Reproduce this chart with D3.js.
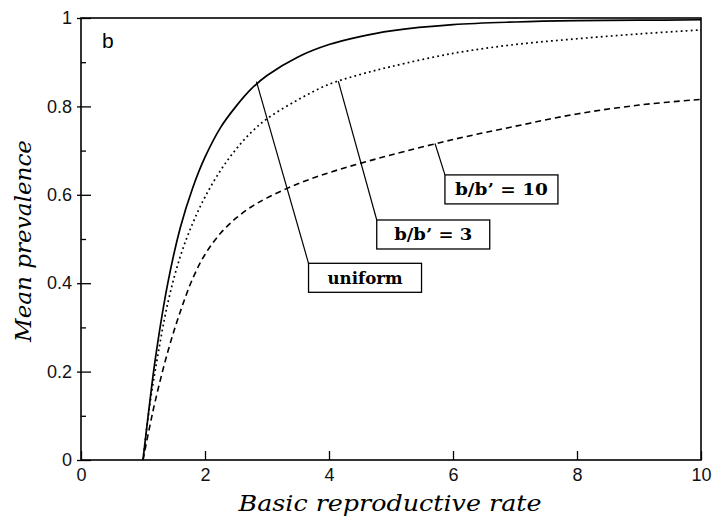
<!DOCTYPE html>
<html>
<head>
<meta charset="utf-8">
<script src="https://cdn.jsdelivr.net/npm/d3@7"></script>
<style>
  body { margin: 0; background: #fff; }
  svg { display: block; }
</style>
</head>
<body>
<div id="chart"></div>
<script>
// basic reproductive rate (x)
const rates = [1, 1.1, 1.2, 1.4, 1.6, 1.8, 2, 2.25, 2.5, 2.75, 3, 3.5, 4, 4.5, 5, 6, 7, 8, 9, 10];
// mean prevalence for each scenario
const uniform = [0, 0.12, 0.23, 0.40, 0.525, 0.615, 0.685, 0.752, 0.80, 0.84, 0.87, 0.912, 0.94, 0.958, 0.971, 0.985, 0.991, 0.994, 0.995, 0.996];
const ratio3 = [0, 0.115, 0.205, 0.355, 0.46, 0.535, 0.595, 0.655, 0.703, 0.742, 0.772, 0.815, 0.85, 0.872, 0.89, 0.92, 0.94, 0.953, 0.964, 0.973];
const ratio10 = [0, 0.07, 0.135, 0.245, 0.335, 0.41, 0.465, 0.513, 0.547, 0.573, 0.593, 0.625, 0.65, 0.671, 0.69, 0.725, 0.755, 0.783, 0.803, 0.816];

const xTicks = [0, 2, 4, 6, 8, 10];
const yTicks = [0, 0.2, 0.4, 0.6, 0.8, 1];
const yMinor = [0.1, 0.3, 0.5, 0.7, 0.9];

const margin = { top: 18, left: 81, bottom: 62, right: 13 };
const fullWidth = 714, fullHeight = 522;
const width = fullWidth - margin.left - margin.right;
const height = fullHeight - margin.top - margin.bottom;

const svg = d3.select('#chart')
    .append('svg')
        .attr('width', fullWidth)
        .attr('height', fullHeight)
    .append('g')
        .attr('transform', `translate(${margin.left}, ${margin.top})`);

const xScale = d3.scaleLinear().domain([0, 10]).range([0, width]);
const yScale = d3.scaleLinear().domain([0, 1]).range([height, 0]);

const tickFont = '"Liberation Sans", Arial, sans-serif';
const serif = '"DejaVu Serif", "Liberation Serif", serif';

// y axis: major ticks cross the axis slightly
const yAxis = d3.axisLeft(yScale)
    .tickValues(yTicks)
    .tickFormat(d3.format('~g'))
    .tickSizeInner(-10)
    .tickSizeOuter(0)
    .tickPadding(9);
const gy = svg.append('g').call(yAxis);
gy.select('.domain').remove();
gy.selectAll('.tick line').attr('x1', -4).attr('x2', 10).attr('stroke-width', 1.3);
gy.selectAll('text').style('font-family', tickFont).style('font-size', '18px').attr('fill', '#111');

const gyMinor = svg.append('g')
    .call(d3.axisLeft(yScale).tickValues(yMinor).tickSizeInner(-5).tickSizeOuter(0).tickFormat(''));
gyMinor.select('.domain').remove();
gyMinor.selectAll('.tick line').attr('stroke-width', 1.3);

// x axis
const xAxis = d3.axisBottom(xScale)
    .tickValues(xTicks)
    .tickSizeInner(-9)
    .tickSizeOuter(0)
    .tickPadding(8);
const gx = svg.append('g')
        .attr('transform', `translate(0, ${height})`)
    .call(xAxis);
gx.select('.domain').remove();
gx.selectAll('.tick line').attr('stroke-width', 1.3);
gx.selectAll('text').style('font-family', tickFont).style('font-size', '18px').attr('fill', '#111');

// frame
svg.append('rect')
    .attr('width', width)
    .attr('height', height)
    .attr('fill', 'none')
    .attr('stroke', '#000')
    .attr('stroke-width', 1.6);

// curves
const line = d3.line()
    .x(d => xScale(d[0]))
    .y(d => yScale(d[1]))
    .curve(d3.curveCatmullRom.alpha(0.5));

const series = [
    { values: uniform, dash: null, w: 1.7 },
    { values: ratio3, dash: '1.8,3.2', w: 1.7 },
    { values: ratio10, dash: '6,4', w: 1.6 },
];

svg.selectAll('path.curve')
    .data(series)
    .enter()
    .append('path')
        .attr('class', 'curve')
        .attr('d', s => line(rates.map((r, i) => [r, s.values[i]])))
        .attr('fill', 'none')
        .attr('stroke', '#000')
        .attr('stroke-width', s => s.w)
        .attr('stroke-dasharray', s => s.dash);

// labels with leader lines (anchor on curve, box corner in data units)
const notes = [
    { text: 'uniform', ax: 2.83, ay: 0.856, bx: 3.67, by: 0.445, len: 75 },
    { text: "b/b\u2019 = 3", ax: 4.15, ay: 0.857, bx: 4.77, by: 0.543, len: 78 },
    { text: "b/b\u2019 = 10", ax: 5.71, ay: 0.716, bx: 5.87, by: 0.645, len: 93 },
];
const boxW = 113, boxH = 29;

const note = svg.selectAll('g.note')
    .data(notes)
    .enter()
    .append('g')
        .attr('class', 'note');

note.append('line')
    .attr('x1', d => xScale(d.ax))
    .attr('y1', d => yScale(d.ay))
    .attr('x2', d => xScale(d.bx))
    .attr('y2', d => yScale(d.by))
    .attr('stroke', '#000')
    .attr('stroke-width', 1.2);

note.append('rect')
    .attr('x', d => xScale(d.bx))
    .attr('y', d => yScale(d.by))
    .attr('width', boxW)
    .attr('height', boxH)
    .attr('fill', '#fff')
    .attr('stroke', '#000')
    .attr('stroke-width', 1.3);

note.append('text')
    .attr('x', d => xScale(d.bx) + boxW / 2)
    .attr('y', d => yScale(d.by) + boxH / 2 + 6)
    .attr('text-anchor', 'middle')
    .attr('textLength', d => d.len)
    .attr('lengthAdjust', 'spacingAndGlyphs')
    .style('font-family', serif)
    .style('font-weight', 'bold')
    .style('font-size', '16px')
    .text(d => d.text);

// panel letter
svg.append('text')
    .attr('x', 21)
    .attr('y', 30)
    .style('font-family', tickFont)
    .style('font-size', '21px')
    .text('b');

// axis titles
svg.append('text')
    .attr('x', 390 - margin.left)
    .attr('y', height + 51)
    .attr('text-anchor', 'middle')
    .attr('textLength', 303)
    .attr('lengthAdjust', 'spacingAndGlyphs')
    .style('font-family', serif)
    .style('font-style', 'italic')
    .style('font-size', '22px')
    .text('Basic reproductive rate');

svg.append('text')
    .attr('transform', `translate(${31 - margin.left}, ${241 - margin.top}) rotate(-90)`)
    .attr('text-anchor', 'middle')
    .attr('textLength', 202)
    .attr('lengthAdjust', 'spacingAndGlyphs')
    .style('font-family', serif)
    .style('font-style', 'italic')
    .style('font-size', '22px')
    .text('Mean prevalence');
</script>
</body>
</html>
